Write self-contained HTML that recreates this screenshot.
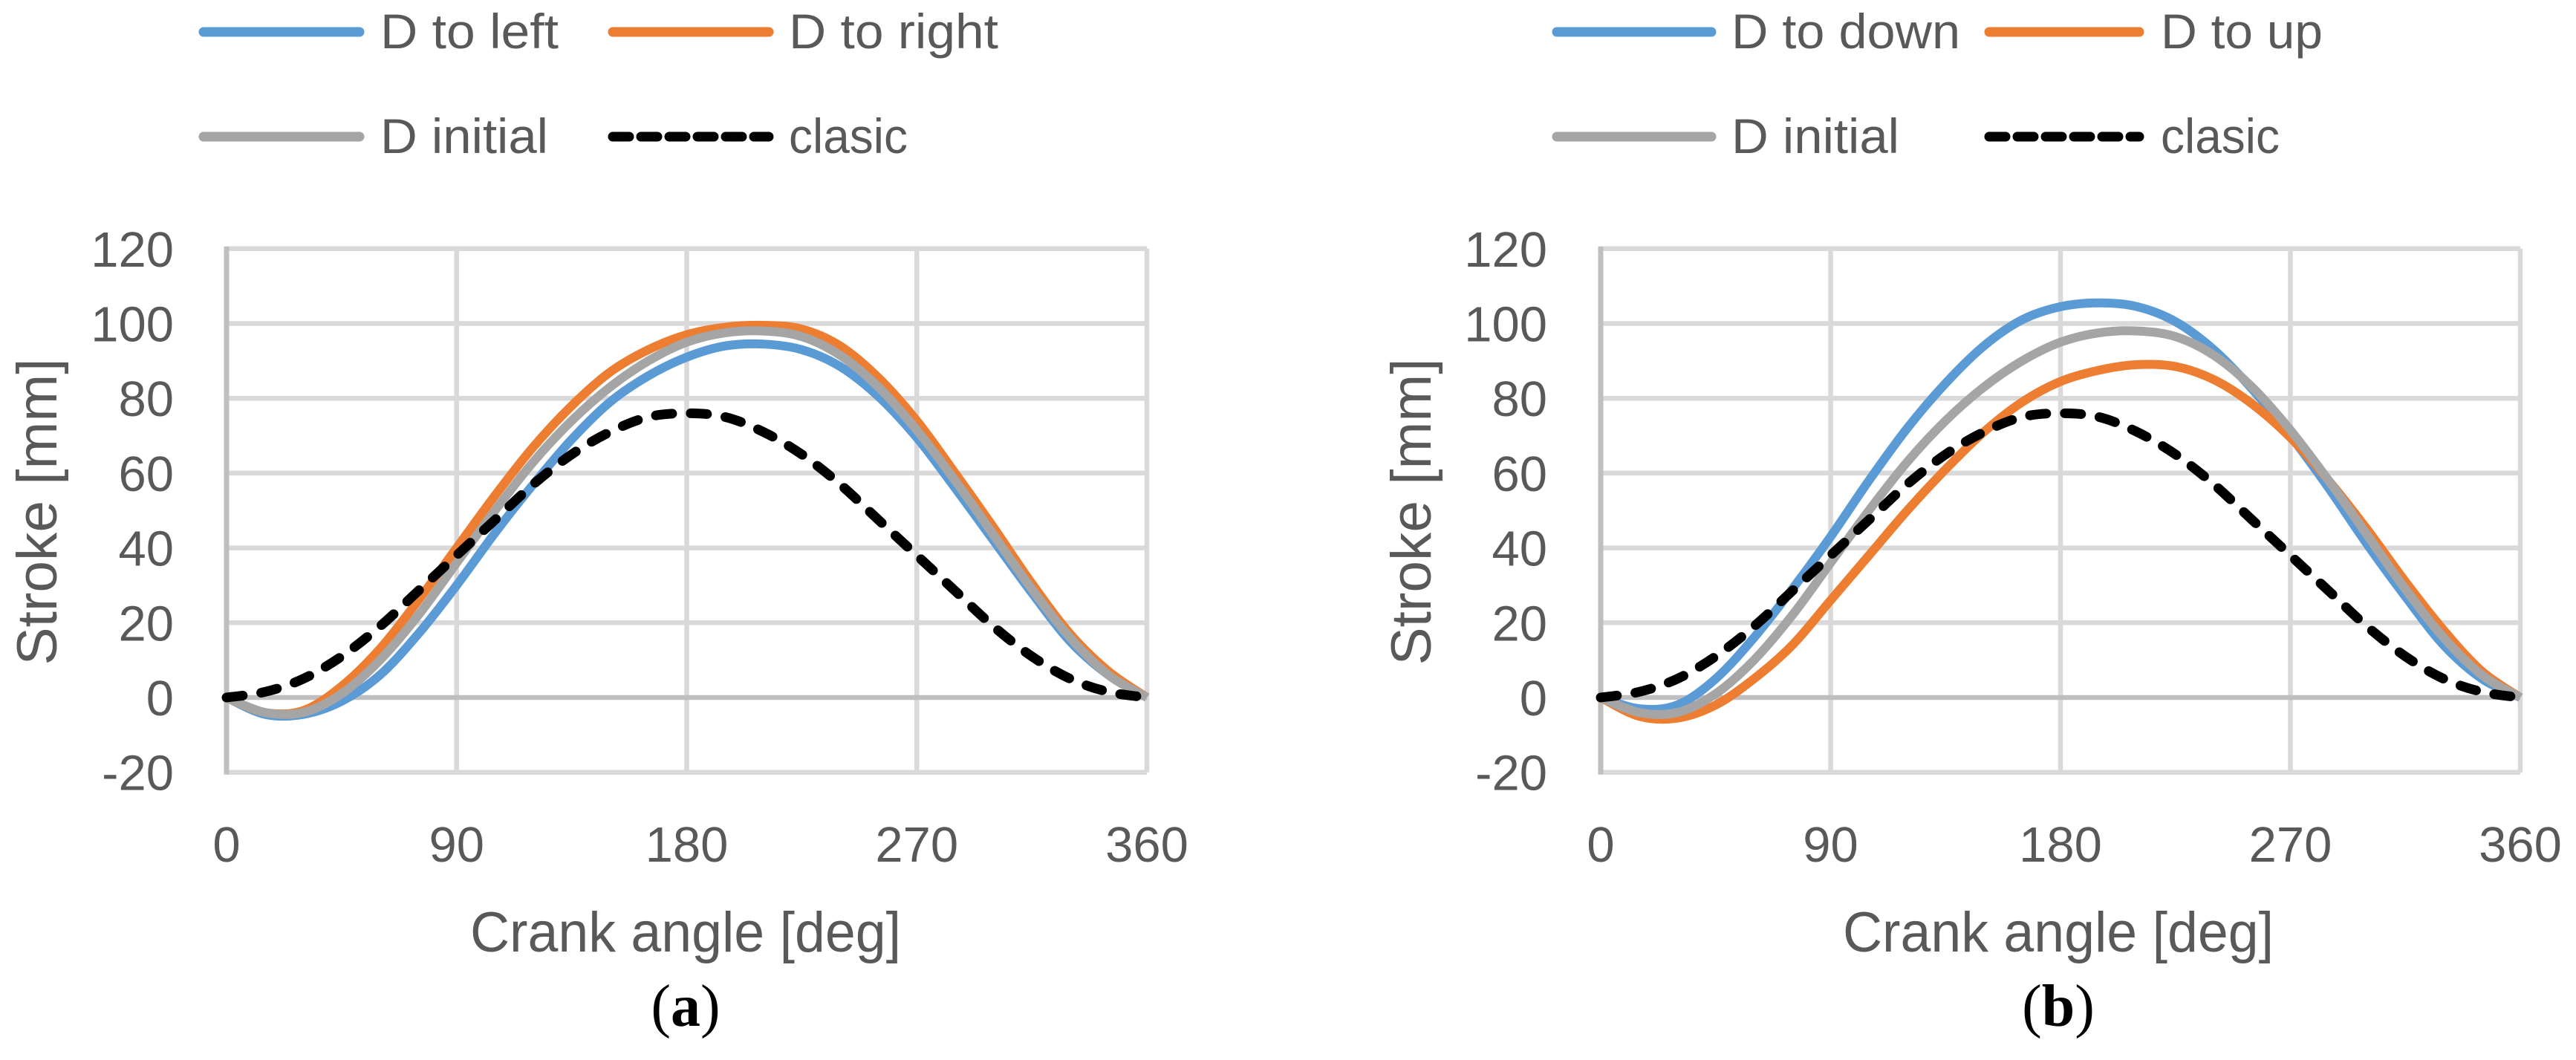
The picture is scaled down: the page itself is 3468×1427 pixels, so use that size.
<!DOCTYPE html>
<html>
<head>
<meta charset="utf-8">
<style>
  html, body { margin:0; padding:0; background:#fff; }
  svg { display:block; }
  .tick { font-family:"Liberation Sans", sans-serif; font-size:67px; fill:#595959; }
  .title { font-family:"Liberation Sans", sans-serif; font-size:76px; fill:#595959; }
  .leg { font-family:"Liberation Sans", sans-serif; font-size:66px; fill:#595959; }
  .cap { font-family:"Liberation Serif", serif; font-size:80px; fill:#000; }
</style>
</head>
<body>
<svg id="fig" width="3468" height="1427" viewBox="0 0 3468 1427" xmlns="http://www.w3.org/2000/svg"></svg>
<script>
// ---- data ----
const angles = [0,15,30,45,60,75,90,105,120,135,150,165,180,195,210,225,240,255,270,285,300,315,330,345,360];
const xTicks = [0,90,180,270,360];
const yTicks = [-20,0,20,40,60,80,100,120];
const clasic = [0,1.5,5,11,19,28.5,38,47.5,57,65,71,75,76,75,71,65,57,47.5,38,28.5,19,11,5,1.5,0];
const dInitial = [0,-4,-4,1,10,22,36,50,63,74,83,90,95,97.5,98,96.5,91.5,83,71.5,58,43.5,29,16,6,0];
const dToLeft = [0,-4.5,-4.5,-1,6,17,30,44,57,69,79,86,91,94,94.5,93,88.5,80.5,69.5,56,42,28,15,6,0];
const dToRight = [0,-4,-3.5,3,13,26,40,54,67,78,87,93,97,99,99.5,98.5,94,85.5,74,60,45.5,30.5,17,7,0];
const dToDown = [0,-3,-2,5,16,29,43,58,72,84,94,101,104.5,105.5,104.5,100.5,93,82.5,70,56,41,27,14,5,0];
const dToUp = [0,-5,-5.5,-2,5,14,26,38,50,61,71,79,84.5,87.5,89,88.5,85,78.5,69.5,58,45,31,18,7,0];

const NS = "http://www.w3.org/2000/svg";
const svg = document.getElementById('fig');
function mk(tag, attrs, parent) {
  const e = document.createElementNS(NS, tag);
  for (const k in attrs) e.setAttribute(k, attrs[k]);
  (parent || svg).appendChild(e);
  return e;
}
function smoothPath(pts) {
  let d = "M" + pts[0][0] + "," + pts[0][1];
  for (let i = 0; i < pts.length - 1; i++) {
    const p0 = pts[Math.max(0, i-1)], p1 = pts[i], p2 = pts[i+1], p3 = pts[Math.min(pts.length-1, i+2)];
    const c1x = p1[0] + (p2[0]-p0[0])/6, c1y = p1[1] + (p2[1]-p0[1])/6;
    const c2x = p2[0] - (p3[0]-p1[0])/6, c2y = p2[1] - (p3[1]-p1[1])/6;
    d += " C" + c1x + "," + c1y + " " + c2x + "," + c2y + " " + p2[0] + "," + p2[1];
  }
  return d;
}

function drawChart(cfg) {
  const g = mk('g', {});
  
  
  const x = v => cfg.x0 + v / 360 * (cfg.x1 - cfg.x0);
  const y = v => cfg.y0 - v / 20 * cfg.step;
  yTicks.forEach(t => {
    if (t === 0) return;
    const l = mk('line', {x1:cfg.x0, x2:cfg.x1, y1:y(t), y2:y(t), stroke:'#D9D9D9', 'stroke-width':6.5}, g);
    
    
  });
  xTicks.forEach(t => {
    if (t === 0) return;
    const l = mk('line', {x1:x(t), x2:x(t), y1:y(120), y2:y(-20), stroke:'#D9D9D9', 'stroke-width':6.5}, g);
    
    
  });
  const za = mk('line', {x1:cfg.x0, x2:cfg.x1, y1:y(0), y2:y(0), stroke:'#BFBFBF', 'stroke-width':6.5}, g);
  
  
  const ya = mk('line', {x1:cfg.x0, x2:cfg.x0, y1:y(120)-3, y2:y(-20)+3, stroke:'#BFBFBF', 'stroke-width':7}, g);
  
  
  yTicks.forEach(t => {
    const tx = mk('text', {x:cfg.yLabelX, y:y(t)+24, 'text-anchor':'end', class:'tick'}, g);
    tx.textContent = t;
    
    
  });
  xTicks.forEach(t => {
    const tx = mk('text', {x:x(t), y:1160, 'text-anchor':'middle', class:'tick'}, g);
    tx.textContent = t;
    
    
  });
  cfg.series.forEach(s => {
    const pts = angles.map((a, i) => [x(a), y(s.data[i])]);
    const attrs = {d:smoothPath(pts), fill:'none', stroke:s.color, 'stroke-width':s.dash ? 13 : 12, 'stroke-linecap': s.dash ? 'round' : 'butt', 'stroke-linejoin':'round'};
    if (s.dash) attrs['stroke-dasharray'] = '22 25';
    const p = mk('path', attrs, g);
    
    
  });
  const yt = mk('text', {x:0, y:0, transform:'translate(' + (cfg.yTitleX) + ',689) rotate(-90)', 'text-anchor':'middle', class:'title', textLength:413, lengthAdjust:'spacingAndGlyphs'}, g);
  yt.textContent = 'Stroke [mm]';
  
  
  const xt = mk('text', {x:cfg.xTitleX, y:1281, 'text-anchor':'middle', class:'title', textLength:580, lengthAdjust:'spacingAndGlyphs'}, g);
  xt.textContent = 'Crank angle [deg]';
  
  
  const cp = mk('text', {x:cfg.xTitleX, y:1381, 'text-anchor':'middle', class:'cap'}, g);
  cp.innerHTML = '(<tspan font-weight="bold">' + cfg.label + '</tspan>)';
  
  
  cfg.legend.forEach(L => {
    const lg = mk('g', {}, g);
    
    
    const la = {x1:L.lx1, x2:L.lx2, y1:L.ly, y2:L.ly, stroke:L.color, 'stroke-width':13, 'stroke-linecap':'round'};
    if (L.dash) la['stroke-dasharray'] = '22 16';
    const ll = mk('line', la, lg);
    
    
    const lt = mk('text', {x:L.tx, y:L.ly+22, class:'leg', textLength:L.w, lengthAdjust:'spacingAndGlyphs'}, lg);
    lt.textContent = L.text;
    
    
  });
}

drawChart({
  name:'chart-a', label:'a', x0:305, x1:1544, y0:939, step:100.7, yLabelX:234, yTitleX:76, xTitleX:923,
  series:[
    {id:'d-to-left', data:dToLeft, color:'#5B9BD5'},
    {id:'d-to-right', data:dToRight, color:'#ED7D31'},
    {id:'d-initial', data:dInitial, color:'#A5A5A5'},
    {id:'clasic', data:clasic, color:'#000', dash:true}
  ],
  legend:[
    {text:'D to left', color:'#5B9BD5', lx1:274, lx2:484, ly:43, tx:512, w:240},
    {text:'D to right', color:'#ED7D31', lx1:825, lx2:1035, ly:43, tx:1062, w:282},
    {text:'D initial', color:'#A5A5A5', lx1:274, lx2:484, ly:184, tx:512, w:226},
    {text:'clasic', color:'#000', lx1:825, lx2:1035, ly:184, tx:1062, w:160, dash:true}
  ]
});
drawChart({
  name:'chart-b', label:'b', x0:2155, x1:3393, y0:939, step:100.7, yLabelX:2083, yTitleX:1926, xTitleX:2771,
  series:[
    {id:'d-to-down', data:dToDown, color:'#5B9BD5'},
    {id:'d-to-up', data:dToUp, color:'#ED7D31'},
    {id:'d-initial', data:dInitial, color:'#A5A5A5'},
    {id:'clasic', data:clasic, color:'#000', dash:true}
  ],
  legend:[
    {text:'D to down', color:'#5B9BD5', lx1:2096, lx2:2304, ly:43, tx:2331, w:308},
    {text:'D to up', color:'#ED7D31', lx1:2678, lx2:2880, ly:43, tx:2909, w:218},
    {text:'D initial', color:'#A5A5A5', lx1:2096, lx2:2304, ly:184, tx:2331, w:226},
    {text:'clasic', color:'#000', lx1:2678, lx2:2880, ly:184, tx:2909, w:160, dash:true}
  ]
});
</script>
</body>
</html>
